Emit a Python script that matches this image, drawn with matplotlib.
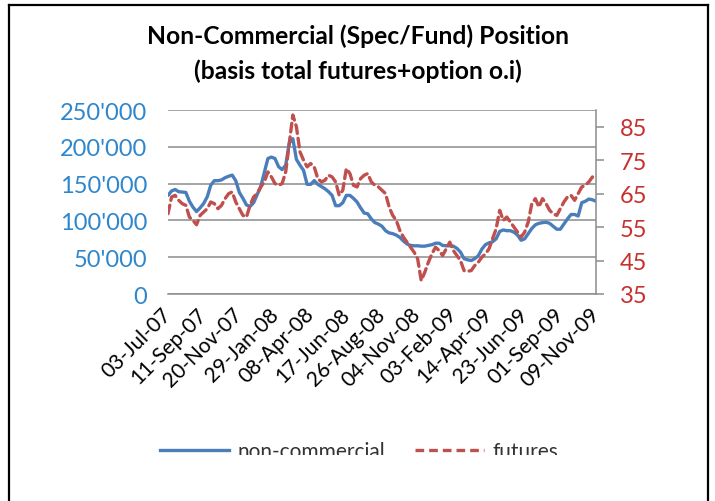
import matplotlib
matplotlib.use("Agg")
import matplotlib.pyplot as plt
from matplotlib.lines import Line2D
from matplotlib.patches import Rectangle
import numpy as np

# ---- data ----
tick_labels = ["03-Jul-07", "11-Sep-07", "20-Nov-07", "29-Jan-08", "08-Apr-08",
               "17-Jun-08", "26-Aug-08", "04-Nov-08", "03-Feb-09", "14-Apr-09",
               "23-Jun-09", "01-Sep-09", "09-Nov-09"]

non_commercial = [
    134000, 140000, 142000, 139000, 138500, 138000, 126000, 118000, 112000, 117000,
    123000, 132000, 148000, 154000, 154000, 155000, 158000,
    160000, 161500, 154000, 138000, 130000, 121000, 119000, 124000, 135000, 146000, 165000,
    184000, 186000, 184000, 173000, 169000, 175000, 205000, 211000, 183000, 175000, 168000,
    149000, 149000, 154000, 149000, 146000, 143000, 139000, 134000, 120000, 120000, 124000,
    134000, 134000, 130000, 125000, 117000, 110000, 109000, 102000, 97000, 95000, 92000,
    86000, 83000, 82000, 80000, 77000, 72000, 68000, 66000, 65500, 65500, 65000,
    65000, 66000, 67000, 69000, 69000, 66000, 65500, 65500, 65000, 62000, 57000,
    48000, 46500, 45500, 48000, 52000, 61000, 67000, 69500, 71000, 75000, 85000,
    87000, 86000, 86000, 84000, 80000, 73000, 75000, 82000, 89000, 94000, 96000,
    97000, 97500, 96000, 92000, 88000, 88000, 95000, 102000, 108000, 108000, 106000,
    124000, 126000, 129000, 128000, 126000]

futures = [
    59, 64, 64.5, 63, 62, 61.5, 58, 57, 55.7, 58.5,
    59.5, 60.5, 62.5, 62, 60.5, 61.5, 63.5,
    65, 65.5, 62.5, 60.5, 58.5, 58, 61.5, 64, 65, 67, 68.5,
    71.5, 70, 68, 67.5, 68, 71.5, 80, 88.5, 85, 77.5, 75,
    73, 74, 73, 69.5, 68.5, 69, 70.5, 70, 68.5, 64.5, 66,
    72.5, 71, 67.5, 67, 69.5, 70.5, 71, 68.5, 67.5, 67, 66,
    65, 61, 58.5, 57, 54, 52, 50.5, 49, 47.5, 45.5, 39,
    41.5, 44.5, 47, 49, 48, 46.5, 48.5, 50.5, 48, 46.5, 45,
    42, 41.8, 42, 43.5, 44.5, 46, 47, 48.5, 51.5, 54.5, 60,
    57, 58, 56.5, 55, 53.5, 52, 53.5, 56.5, 62, 63.5, 61,
    63.5, 62, 60, 59, 58.5, 60.5, 62.5, 64, 64.5, 63, 65,
    67, 67.5, 68.5, 70, 69.5]

left_ticks = [0, 50000, 100000, 150000, 200000, 250000]
left_tick_labels = ["0", "50'000", "100'000", "150'000", "200'000", "250'000"]
right_ticks = [35, 45, 55, 65, 75, 85]

# ---- style ----
plt.rcParams['font.family'] = ['Lato', 'DejaVu Sans']
BLUE_LINE = '#4A7EBB'
RED_LINE = '#C0504D'
BLUE_TXT = '#2E86CC'
RED_TXT = '#C8302E'
GRID = '#8C8C8C'

W, H = 715, 502
fig = plt.figure(figsize=(W / 100, H / 100), dpi=100)
fig.patch.set_facecolor('white')

ax = fig.add_axes([168 / W, 1 - 295 / H, (596 - 168) / W, (295 - 111) / H])
ax2 = ax.twinx()

x = np.arange(len(non_commercial))
ax.plot(x, non_commercial, color=BLUE_LINE, lw=2.4, solid_capstyle='round',
        solid_joinstyle='round', zorder=3, label='non-commercial')
ax2.plot(np.arange(len(futures)), futures, color=RED_LINE, lw=2.4,
         dashes=(2.6, 1.5), dash_capstyle='round', zorder=3, label='futures')

ax.set_xlim(0, len(non_commercial) - 1)
ax.set_ylim(0, 250000)
ax2.set_ylim(35, 90)

ax.set_yticks(left_ticks)
ax.set_yticklabels(left_tick_labels)
ax.yaxis.grid(True, color=GRID, lw=1.1)
ax.set_axisbelow(True)
ax.tick_params(axis='y', length=0, pad=15, labelsize=17, labelcolor=BLUE_TXT)

ax2.set_yticks(right_ticks)
ax2.set_yticklabels([str(v) for v in right_ticks])
ax2.tick_params(axis='y', length=6, width=1.1, color=GRID, pad=11,
                labelsize=17, labelcolor=RED_TXT)

xt = np.arange(0, 10 * len(tick_labels), 10)
ax.set_xticks(xt)
ax.set_xticklabels(tick_labels, rotation=45, ha='right', va='center',
                   rotation_mode='anchor', fontsize=15)
ax.tick_params(axis='x', length=0, pad=12, labelcolor='black')

for a in (ax, ax2):
    for s in ('top', 'left'):
        a.spines[s].set_visible(False)
ax.spines['right'].set_visible(False)
ax2.spines['bottom'].set_visible(False)
ax.spines['bottom'].set_color(GRID)
ax.spines['bottom'].set_linewidth(1.1)
ax2.spines['right'].set_color(GRID)
ax2.spines['right'].set_linewidth(1.1)

# title
fig.text(358 / W, 1 - 36 / H, "Non-Commercial (Spec/Fund) Position",
         ha='center', va='center', fontsize=17.7, fontweight='bold')
fig.text(358 / W, 1 - 71 / H, "(basis total futures+option o.i)",
         ha='center', va='center', fontsize=17.7, fontweight='bold')

# legend
h = [Line2D([], [], color=BLUE_LINE, lw=2.4),
     Line2D([], [], color=RED_LINE, lw=2.4, dashes=(2.6, 1.5))]
leg = fig.legend(h, ['non-commercial', 'futures'], loc='center',
                 bbox_to_anchor=(359 / W, 1 - 452 / H), ncol=2, frameon=False,
                 fontsize=15, handlelength=3.3, handletextpad=0.4,
                 columnspacing=1.45)
for t in leg.get_texts():
    t.set_color('#333333')

# crop of the lower part, as in the reference
fig.patches.append(Rectangle((11 / W, 0), (705 - 11) / W, (H - 456) / H,
                             transform=fig.transFigure, facecolor='white',
                             edgecolor='none', zorder=10))

# outer frame (left, top, right)
fr = dict(color='black', lw=1.6, transform=fig.transFigure, zorder=11)
fig.add_artist(Line2D([9 / W, 9 / W], [0, 1 - 6 / H], **fr))
fig.add_artist(Line2D([9 / W, 708 / W], [1 - 6 / H, 1 - 6 / H], **fr))
fig.add_artist(Line2D([708 / W, 708 / W], [0, 1 - 6 / H], **fr))

fig.savefig('out.png', dpi=100)
